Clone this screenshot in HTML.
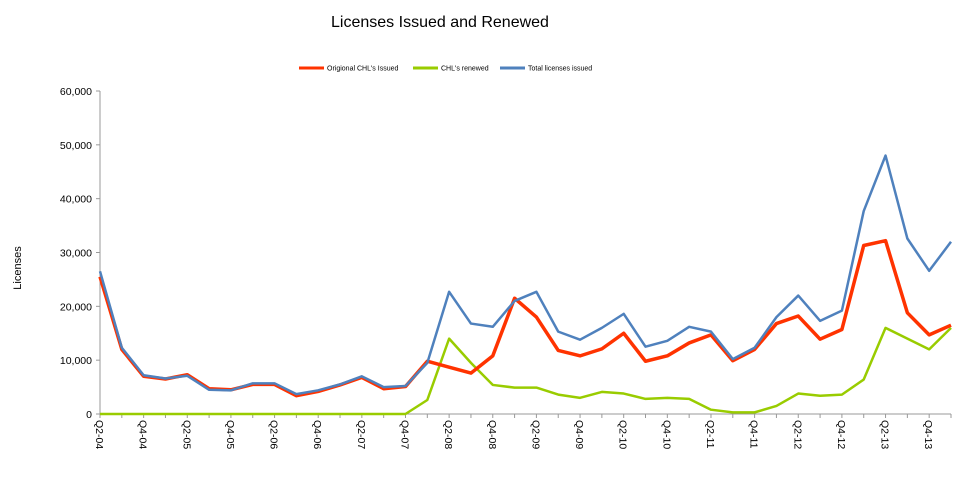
<!DOCTYPE html>
<html><head><meta charset="utf-8"><style>
body{margin:0;background:#fff;font-family:"Liberation Sans",sans-serif}
</style></head><body>
<svg id="chart" width="966" height="487" xmlns="http://www.w3.org/2000/svg" font-family="Liberation Sans, sans-serif">
<text x="440" y="27" font-size="16" text-anchor="middle">Licenses Issued and Renewed</text>
<g font-size="7">
<g><line x1="299" y1="68" x2="324" y2="68" stroke="#ff3300" stroke-width="3"/><text x="327" y="70.5">Origional CHL's Issued</text></g>
<g><line x1="413" y1="68" x2="438" y2="68" stroke="#99cc00" stroke-width="3"/><text x="441" y="70.5">CHL's renewed</text></g>
<g><line x1="500" y1="68" x2="525" y2="68" stroke="#4f81bd" stroke-width="3"/><text x="528" y="70.5">Total licenses issued</text></g>
</g>
<text transform="translate(21,268) rotate(-90)" font-size="11" text-anchor="middle">Licenses</text>
<g id="axes"></g>
<g id="series"></g>
</svg>
<script>
const categories = [];
(function(){const q=["Q2","Q3","Q4","Q1"];let y=4,k=0;for(let i=0;i<40;i++){categories.push(q[k]+"-"+String(y).padStart(2,"0"));k++;if(k===3)y++;if(k===4)k=0;}})();
const yTicks = [0,10000,20000,30000,40000,50000,60000];
const original = [25500,12000,7000,6500,7300,4700,4500,5500,5500,3400,4200,5400,6800,4700,5100,9800,8700,7600,10800,21500,18000,11800,10800,12100,15000,9800,10800,13200,14700,9900,12000,16800,18200,13900,15700,31300,32200,18800,14700,16500];
const renewed = [0,0,0,0,0,0,0,0,0,0,0,0,0,0,0,2600,14000,9500,5400,4900,4900,3600,3000,4100,3800,2800,3000,2800,800,300,300,1500,3800,3400,3600,6400,16000,14000,12000,16000];
const total = [26500,12300,7200,6600,7100,4500,4400,5700,5700,3700,4400,5500,7000,5000,5200,9500,22700,16800,16200,21000,22700,15300,13800,16000,18600,12500,13600,16200,15300,10200,12300,18000,22000,17300,19200,37700,48000,32600,26600,32000];
const NS="http://www.w3.org/2000/svg";
const x0=100,x1=951,y0=414,y1=91;
const xs=i=>x0+(x1-x0)*i/(categories.length-1);
const ys=v=>y0-(y0-y1)*v/60000;
const axes=document.getElementById('axes'),series=document.getElementById('series');
function mk(t,a,p){const e=document.createElementNS(NS,t);for(const k in a)e.setAttribute(k,a[k]);p.appendChild(e);return e;}
const ya=mk('line',{x1:x0,y1:y1,x2:x0,y2:y0,stroke:'#999'},axes);


yTicks.forEach(v=>{mk('line',{x1:x0-4,y1:ys(v),x2:x0,y2:ys(v),stroke:'#999'},axes);
const t=mk('text',{x:x0-8,y:ys(v)+4,'font-size':'10.5','text-anchor':'end'},axes);t.textContent=v.toLocaleString('en-US');

});
const xa=mk('line',{x1:x0,y1:y0,x2:x1,y2:y0,stroke:'#999'},axes);


categories.forEach((c,i)=>{mk('line',{x1:xs(i),y1:y0,x2:xs(i),y2:y0+4,stroke:'#999'},axes);
if(i%2===0){const t=mk('text',{transform:`translate(${xs(i)-4},${y0+6}) rotate(90)`,'font-size':'10.5'},axes);t.textContent=c;

}});
function line(d,col,w,name){const p=mk('polyline',{points:d.map((v,i)=>xs(i)+','+ys(v)).join(' '),fill:'none',stroke:col,'stroke-width':w,'stroke-linejoin':'round'},series);

}
line(renewed,'#99cc00',2.5,'renewed-line');
line(original,'#ff3300',3.5,'original-line');
line(total,'#4f81bd',2.5,'total-line');
</script>
</body></html>
